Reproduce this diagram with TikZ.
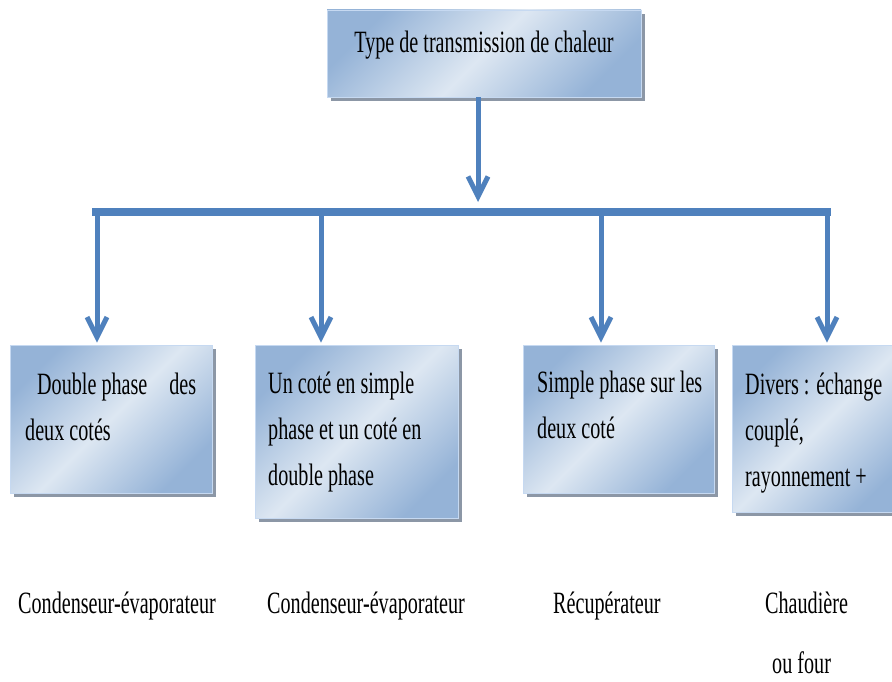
\documentclass[tikz,border=0pt]{standalone}
\usepackage{fontspec}
\setmainfont[FakeStretch=0.65]{Liberation Serif}
\usetikzlibrary{arrows.meta,shadows}

\definecolor{linkblue}{HTML}{4F81BD}
\definecolor{boxdark}{HTML}{95B3D7}
\definecolor{boxlight}{HTML}{DDE7F2}
\definecolor{boxedge}{HTML}{C6D9F1}
\definecolor{shadowgray}{HTML}{8C97A6}

\tikzset{
  card/.style={rectangle, inner sep=0pt, draw=boxedge, line width=0.8pt,
    top color=boxdark, bottom color=boxdark, middle color=boxlight,
    shading angle=45,
    drop shadow={shadow xshift=4pt, shadow yshift=-4pt, fill=shadowgray, opacity=1}},
  words/.style={inner sep=0pt, align=left, font=\fontsize{31}{46}\selectfont},
  link/.style={draw=linkblue, line width=5pt},
  branch/.style={link, -{Straight Barb[length=20pt,width=20pt]}, shorten >=2pt},
}

\begin{document}
\begin{tikzpicture}[x=1pt, y=-1pt]
\useasboundingbox (0,0) rectangle (892,682);

% boxes
\node[card, minimum width=314pt, minimum height=87pt]  (top) at (484,53.5) {};
\node[card, minimum width=202pt, minimum height=148pt] (b1) at (111,419) {};
\node[card, minimum width=203pt, minimum height=173pt] (b2) at (356.5,431.5) {};
\node[card, minimum width=191pt, minimum height=148pt] (b3) at (618.5,419) {};
\node[card, minimum width=173pt, minimum height=167pt] (b4) at (818.5,428.5) {};

% box texts (anchored on the baseline of their last line)
\node[words, anchor=base] (ttop) at (484,53) {Type de transmission de chaleur};
\node[words, anchor=base west] (t1) at (25,440)
  {\hspace*{12pt}Double phase\hspace{22pt}des\\deux cotés};
\node[words, anchor=base west] (t2) at (268,485)
  {Un coté en simple\\phase et un coté en\\double phase};
\node[words, anchor=base west] (t3) at (537,438)
  {Simple phase sur les\\deux coté};
\node[words, anchor=base west] (t4) at (745,486)
  {Divers : échange\\couplé,\\rayonnement +};

% labels under the boxes
\node[words, anchor=base west] (l1) at (18,613) {Condenseur-évaporateur};
\node[words, anchor=base west] (l2) at (267,613) {Condenseur-évaporateur};
\node[words, anchor=base west] (l3) at (553,613) {Récupérateur};
\node[words, anchor=base west] (l4) at (765,673) {Chaudière\\[14pt]\hspace*{7pt}ou four};

% distribution bar
\coordinate (barL) at (92,212);
\coordinate (barR) at (831,212);
\draw[draw=linkblue, line width=8pt] (barL) -- (barR);

\coordinate (feed) at (478,202);
\draw[link, -{Straight Barb[length=20pt,width=20pt]}] (top.south -| feed) -- (feed);

% branches
\coordinate (v1) at (97,212);
\coordinate (v2) at (321,212);
\coordinate (v3) at (601,212);
\coordinate (v4) at (827,212);
\draw[branch] (v1) -- (v1 |- b1.north);
\draw[branch] (v2) -- (v2 |- b2.north);
\draw[branch] (v3) -- (v3 |- b3.north);
\draw[branch] (v4) -- (v4 |- b4.north);
\end{tikzpicture}
\end{document}
